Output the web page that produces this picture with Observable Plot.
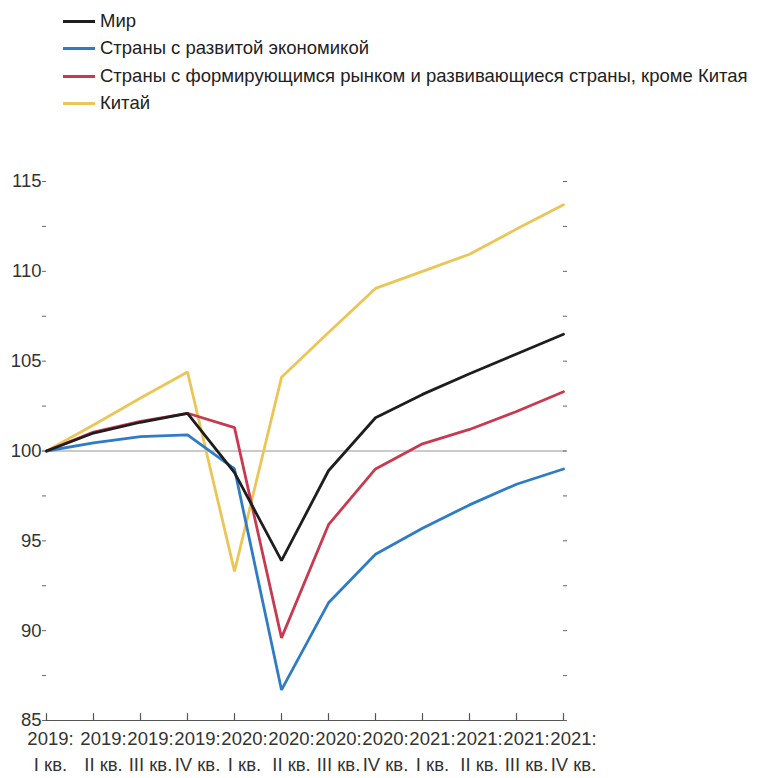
<!DOCTYPE html>
<html>
<head>
<meta charset="utf-8">
<script src="https://cdn.jsdelivr.net/npm/d3@7"></script>
<script src="https://cdn.jsdelivr.net/npm/@observablehq/plot@0.6"></script>
<style>
  html, body { margin: 0; padding: 0; background: #fff; }
  body { width: 760px; height: 778px; overflow: hidden; font-family: "Liberation Sans", Arial, sans-serif; }
  #legend { position: relative; width: 760px; height: 130px; }
  .item { position: absolute; left: 63px; height: 24px; display: flex; align-items: center; font-size: 18.5px; color: #222; white-space: nowrap; }
  .sw { width: 32px; height: 3px; margin-right: 5px; }
</style>
</head>
<body>
<div id="legend"></div>
<div id="chart"></div>
<script>
const quarters = [
  "2019:\nI кв.", "2019:\nII кв.", "2019:\nIII кв.", "2019:\nIV кв.",
  "2020:\nI кв.", "2020:\nII кв.", "2020:\nIII кв.", "2020:\nIV кв.",
  "2021:\nI кв.", "2021:\nII кв.", "2021:\nIII кв.", "2021:\nIV кв."
];
const seriesNames = [
  "Мир",
  "Страны с развитой экономикой",
  "Страны с формирующимся рынком и развивающиеся страны, кроме Китая",
  "Китай"
];
const seriesColors = ["#1e1e1e", "#2f7cc4", "#c83a50", "#ebc556"];
const world    = [100, 101.0, 101.6, 102.1, 98.8, 93.9, 98.9, 101.85, 103.15, 104.3, 105.4, 106.5];
const advanced = [100, 100.45, 100.8, 100.9, 99.0, 86.7, 91.55, 94.25, 95.7, 97.0, 98.15, 99.0];
const emerging = [100, 101.05, 101.65, 102.1, 101.3, 89.6, 95.9, 99.0, 100.4, 101.2, 102.2, 103.3];
const china    = [100, 101.45, 102.95, 104.4, 93.3, 104.1, 106.6, 109.05, 110.0, 110.95, 112.35, 113.7];
const yLabelTicks = [85, 90, 95, 100, 105, 110, 115];
const yMinorTicks = [85, 87.5, 90, 92.5, 95, 97.5, 100, 102.5, 105, 107.5, 110, 112.5, 115];
const baseline = [100];

const seriesValues = [world, advanced, emerging, china];
const rows = seriesValues.flatMap((vals, s) =>
  vals.map((v, i) => ({series: seriesNames[s], quarter: quarters[i], value: v}))
);
// drawing order: China, advanced, emerging, world (world on top)
const drawOrder = [3, 1, 2, 0];

// legend
const legend = document.getElementById("legend");
const legendY = [9, 36, 64, 91];
seriesNames.forEach((name, i) => {
  const div = document.createElement("div");
  div.className = "item";
  div.style.top = legendY[i] + "px";
  const sw = document.createElement("span");
  sw.className = "sw";
  sw.style.background = seriesColors[i];
  const t = document.createElement("span");
  t.textContent = name;
  div.appendChild(sw);
  div.appendChild(t);
  legend.appendChild(div);
});

const chart = Plot.plot({
  width: 760,
  height: 648,
  marginTop: 51,
  marginBottom: 58,
  marginLeft: 42,
  marginRight: 194,
  style: {fontFamily: "'Liberation Sans', Arial, sans-serif", color: "#333", background: "#fff"},
  x: {type: "point", domain: quarters, padding: 0, axis: null},
  y: {domain: [85, 115], axis: null},
  marks: [
    Plot.ruleY(baseline, {stroke: "#b8b8b8", strokeWidth: 1.5}),
    Plot.ruleY([85], {stroke: "#555", strokeWidth: 1.2}),
    // x ticks pointing up
    Plot.ruleX(quarters, {x: d => d, y1: 85, y2: 85.38, stroke: "#555", strokeWidth: 1.2}),
    // left minor/major ticks (inward)
    Plot.axisY({anchor: "left", ticks: yMinorTicks, tickSize: -4, text: null, stroke: "#666", label: null}),
    // right ticks (inward)
    Plot.axisY({anchor: "right", ticks: yMinorTicks, tickSize: -4, text: null, stroke: "#666", label: null}),
    // left labels
    Plot.axisY({anchor: "left", ticks: yLabelTicks, tickSize: 0, tickPadding: 1, fontSize: 18.5, label: null, tickFormat: d => String(d), fill: "#333"}),
    ...drawOrder.map(s => Plot.line(rows.filter(r => r.series === seriesNames[s]), {
      x: "quarter", y: "value", stroke: seriesColors[s], strokeWidth: 2.8, strokeLinejoin: "miter"
    })),
    // x labels
    Plot.text(quarters.slice(0, 1), {x: d => d, frameAnchor: "bottom", dy: 5, dx: 4, lineAnchor: "top", lineHeight: 1.45, fontSize: 18.5, fill: "#333", text: d => d}),
    Plot.text(quarters.slice(1), {x: d => d, frameAnchor: "bottom", dy: 5, dx: 10, lineAnchor: "top", lineHeight: 1.45, fontSize: 18.5, fill: "#333", text: d => d})
  ]
});
document.getElementById("chart").appendChild(chart);
</script>
</body>
</html>
